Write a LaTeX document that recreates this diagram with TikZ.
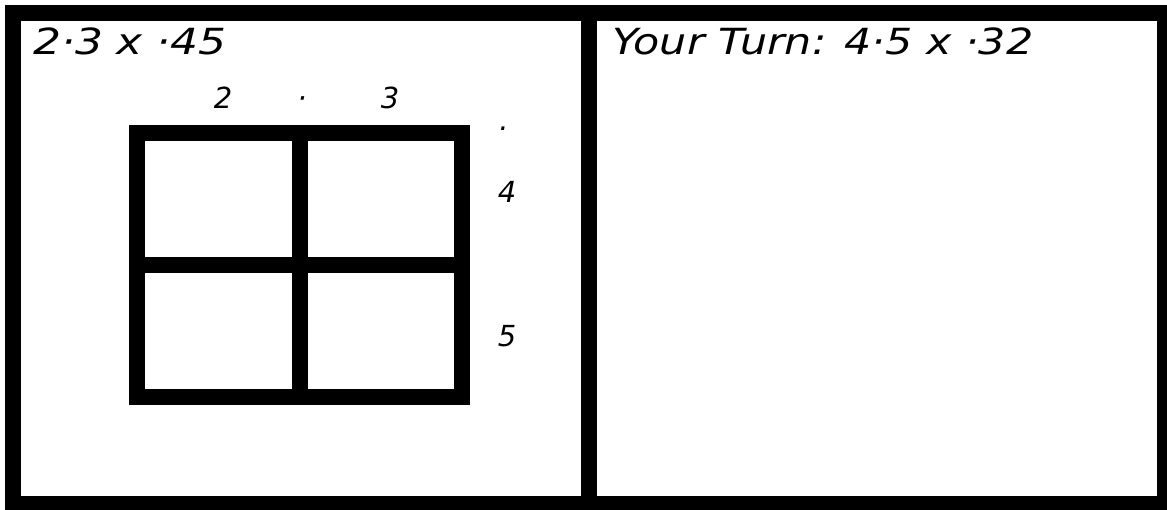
\documentclass[tikz,border=0pt]{standalone}
\usepackage{graphicx}
\usepackage{fontspec}
\setmainfont{DejaVu Sans}
\begin{document}
\begin{tikzpicture}[x=1pt,y=-1pt,
  titletext/.style={inner sep=0pt, font=\fontsize{36}{36}\selectfont\itshape},
  labtext/.style={inner sep=0pt, font=\fontsize{29}{29}\selectfont\itshape},
  gridline/.style={line width=16pt, line join=miter, line cap=rect}]
\useasboundingbox (0,0) rectangle (1167,510);
% frame
\fill[black] (5,5) rectangle (1167,510);
\fill[white] (21,21) rectangle (581,496);
\fill[white] (597,21) rectangle (1157,496);
% titles
\node[titletext, anchor=base west] (t1) at (33,55) {\scalebox{1.22}[1]{2·3 x ·45}};
\node[titletext, anchor=base west] (t2) at (612,55) {\scalebox{1.19}[1]{Your Turn: 4·5 x ·32}};
% grid
\draw[gridline] (137,133) rectangle (462,397);
\draw[gridline] (300,133) -- (300,397);
\draw[gridline] (137,265) -- (462,265);
% labels
\node[labtext, anchor=base] (l2) at (223,109) {2};
\node[labtext, anchor=base] (ld) at (302,109) {·};
\node[labtext, anchor=base] (l3) at (390,109) {3};
\node[labtext, anchor=base] (rd) at (504,131) {.};
\node[labtext, anchor=base] (l4) at (507,203) {4};
\node[labtext, anchor=base] (l5) at (507,347) {5};
\end{tikzpicture}
\end{document}
